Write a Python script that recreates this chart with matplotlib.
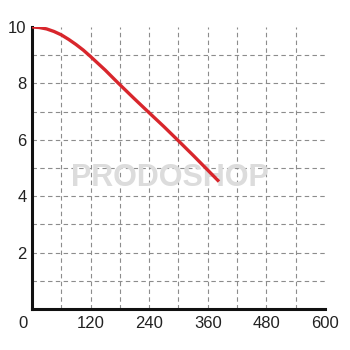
import matplotlib
matplotlib.use("Agg")
import matplotlib.pyplot as plt

plt.rcParams['font.family'] = ['Liberation Sans', 'DejaVu Sans']

# flow (l/min) vs head (m)
flow = [0, 15, 30, 45, 60, 75, 90, 105, 120, 150, 176, 210, 238, 270, 299, 330, 354, 383]
head = [10, 9.98, 9.93, 9.84, 9.72, 9.56, 9.38, 9.18, 8.95, 8.47, 8.02, 7.45, 6.99, 6.47, 5.98, 5.45, 5.03, 4.52]

x_ticks = [120, 240, 360, 480, 600]
y_ticks = [2, 4, 6, 8, 10]
x_grid = [60, 120, 180, 240, 300, 360, 420, 480, 540]
y_grid = [1, 2, 3, 4, 5, 6, 7, 8, 9]

fig = plt.figure(figsize=(3.5, 3.5), dpi=100)
ax = fig.add_axes([0.0914, 0.117, 0.837, 0.806])

for gx in x_grid:
    ax.plot([gx, gx], [0, 10], color='#8c8c8c', lw=0.8, ls=(0, (4, 3)), zorder=1)
for gy in y_grid:
    ax.plot([0, 600], [gy, gy], color='#8c8c8c', lw=0.8, ls=(0, (4, 3)), zorder=1)

ax.text(0.47, 0.465, 'PRODOSHOP', transform=ax.transAxes, ha='center', va='center',
        fontsize=22, fontweight='bold', color='#dcdcdc', zorder=1.5)

ax.plot(flow, head, color='#d8262c', lw=2.4, solid_capstyle='butt',
        solid_joinstyle='round', zorder=3)

ax.set_xlim(0, 600)
ax.set_ylim(0, 10)
ax.set_xticks(x_ticks)
ax.set_yticks(y_ticks)
ax.tick_params(length=0, labelsize=12, colors='#222222')
ax.tick_params(axis='x', pad=5)
ax.tick_params(axis='y', pad=4)
ax.text(-18, -0.25, '0', ha='center', va='top', fontsize=12, color='#222222')

for s in ['top', 'right']:
    ax.spines[s].set_visible(False)
for s in ['left', 'bottom']:
    ax.spines[s].set_linewidth(2.2)
    ax.spines[s].set_color('#111111')

fig.savefig('out.png', dpi=100)
